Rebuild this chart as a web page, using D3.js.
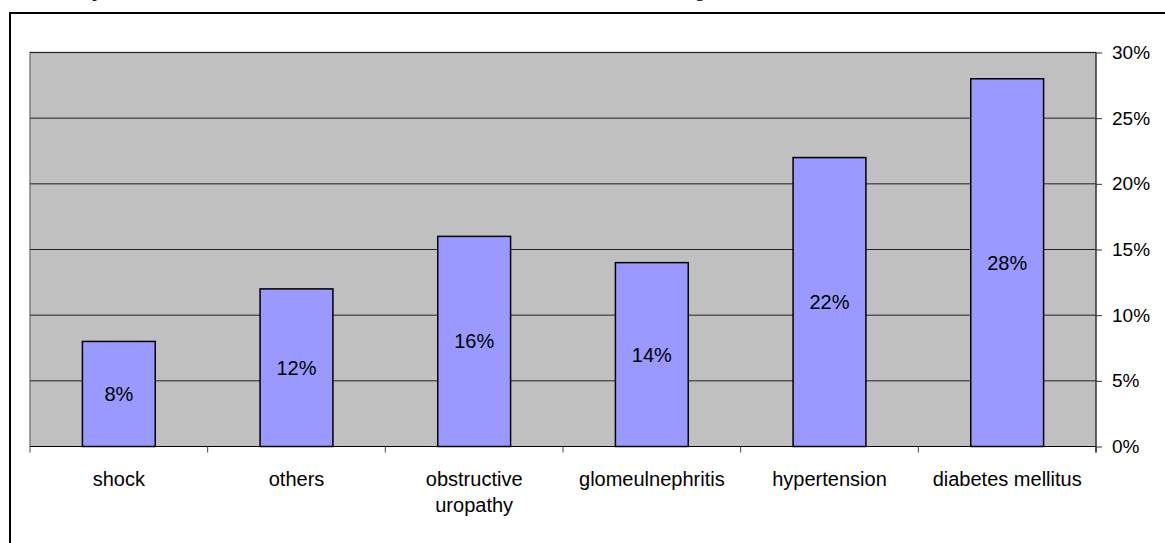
<!DOCTYPE html>
<html>
<head>
<meta charset="utf-8">
<script src="https://cdn.jsdelivr.net/npm/d3@7"></script>
<style>
  body { margin: 0; background: #fff; }
  svg { display: block; }
  text { font-family: Arial, "Liberation Sans", sans-serif; fill: #000; }
</style>
</head>
<body>
<svg id="chart" width="1165" height="543"></svg>
<script>
// causes, in the order they appear on the x axis
var categories = ["shock", "others", "obstructive uropathy", "glomeulnephritis", "hypertension", "diabetes mellitus"];
var values = [8, 12, 16, 14, 22, 28];   // percent
var yTicks = [0, 5, 10, 15, 20, 25, 30];

var svg = d3.select("#chart"),
  plotLeft = 30, plotRight = 1096, plotTop = 52.5, plotBottom = 446.5;

// outer frame, running off the right and bottom of the picture
svg.append("rect").attr("x", 10).attr("y", 13).attr("width", 1200).attr("height", 600)
  .attr("fill", "none").attr("stroke", "#000").attr("stroke-width", 2);

// bits of a title cut off by the top edge (only descenders visible)
svg.append("text").attr("x", 92).attr("y", -4).style("font-family", "'Liberation Serif', serif").style("font-size", "20px").text("p");
svg.append("text").attr("x", 695).attr("y", -4).style("font-family", "'Liberation Serif', serif").style("font-size", "20px").text("g");

var x = d3.scaleBand().domain(categories).range([plotLeft, plotRight]).padding(0),
  y = d3.scaleLinear().domain([0, 30]).range([plotBottom, plotTop]);

// plot area
svg.append("rect").attr("x", plotLeft).attr("y", plotTop).attr("width", plotRight - plotLeft).attr("height", plotBottom - plotTop)
  .attr("fill", "#c0c0c0");
svg.append("path").attr("d", "M" + plotLeft + "," + plotBottom + "V" + plotTop + "H" + plotRight)
  .attr("fill", "none").attr("stroke", "#808080").attr("stroke-width", 1.5);

// gridlines
svg.selectAll("line.grid").data(yTicks.filter(function (d) { return d > 0; })).enter().append("line")
  .attr("class", "grid")
  .attr("x1", plotLeft).attr("x2", plotRight)
  .attr("y1", function (d) { return y(d); }).attr("y2", function (d) { return y(d); })
  .attr("stroke", "#222").attr("stroke-width", 1);

// bars
var barW = x.bandwidth() * 0.41;
svg.selectAll("rect.bar").data(values).enter().append("rect")
  .attr("class", "bar")
  .attr("x", function (d, i) { return x(categories[i]) + (x.bandwidth() - barW) / 2; })
  .attr("y", function (d) { return y(d); })
  .attr("width", barW)
  .attr("height", function (d) { return y(0) - y(d); })
  .attr("fill", "#9999ff").attr("stroke", "#000").attr("stroke-width", 1.5);

svg.selectAll("text.val").data(values).enter().append("text")
  .attr("class", "val")
  .attr("x", function (d, i) { return x(categories[i]) + x.bandwidth() / 2; })
  .attr("y", function (d) { return (y(d) + y(0)) / 2; })
  .attr("dy", "0.35em")
  .attr("text-anchor", "middle")
  .style("font-size", "20px")
  .text(function (d) { return d + "%"; });

// x axis: baseline + ticks at band boundaries
svg.append("line").attr("x1", plotLeft).attr("x2", plotRight).attr("y1", plotBottom).attr("y2", plotBottom)
  .attr("stroke", "#000").attr("stroke-width", 1.2);
var bounds = categories.map(function (c) { return x(c); }).concat([plotRight]);
svg.selectAll("line.xt").data(bounds).enter().append("line")
  .attr("class", "xt")
  .attr("x1", function (d) { return d; }).attr("x2", function (d) { return d; })
  .attr("y1", plotBottom).attr("y2", plotBottom + 6)
  .attr("stroke", "#444").attr("stroke-width", 1);

// category labels, wrapped like the original
var labelLines = { "obstructive uropathy": ["obstructive", "uropathy"] };
var lab = svg.selectAll("text.cat").data(categories).enter().append("text")
  .attr("class", "cat")
  .attr("text-anchor", "middle")
  .style("font-size", "20px")
  .attr("transform", function (d) { return "translate(" + (x(d) + x.bandwidth() / 2) + "," + (plotBottom + 39) + ")"; });
lab.selectAll("tspan").data(function (d) { return labelLines[d] || [d]; }).enter().append("tspan")
  .attr("x", 0).attr("dy", function (d, i) { return i ? 26 : 0; })
  .text(function (d) { return d; });

// right y axis
var yAxis = d3.axisRight(y).tickValues(yTicks).tickSize(6).tickPadding(10)
  .tickFormat(function (d) { return d + "%"; });
var ga = svg.append("g").attr("transform", "translate(" + plotRight + ",0)").call(yAxis);
ga.select(".domain").remove();
ga.append("line").attr("x1", 0).attr("x2", 0).attr("y1", plotTop).attr("y2", plotBottom + 6)
  .attr("stroke", "#333").attr("stroke-width", 1.5);
ga.selectAll(".tick line").attr("stroke", "#333");
ga.selectAll(".tick text").style("font-size", "19px").style("font-family", "Arial, 'Liberation Sans', sans-serif").attr("fill", "#000");
</script>
</body>
</html>
